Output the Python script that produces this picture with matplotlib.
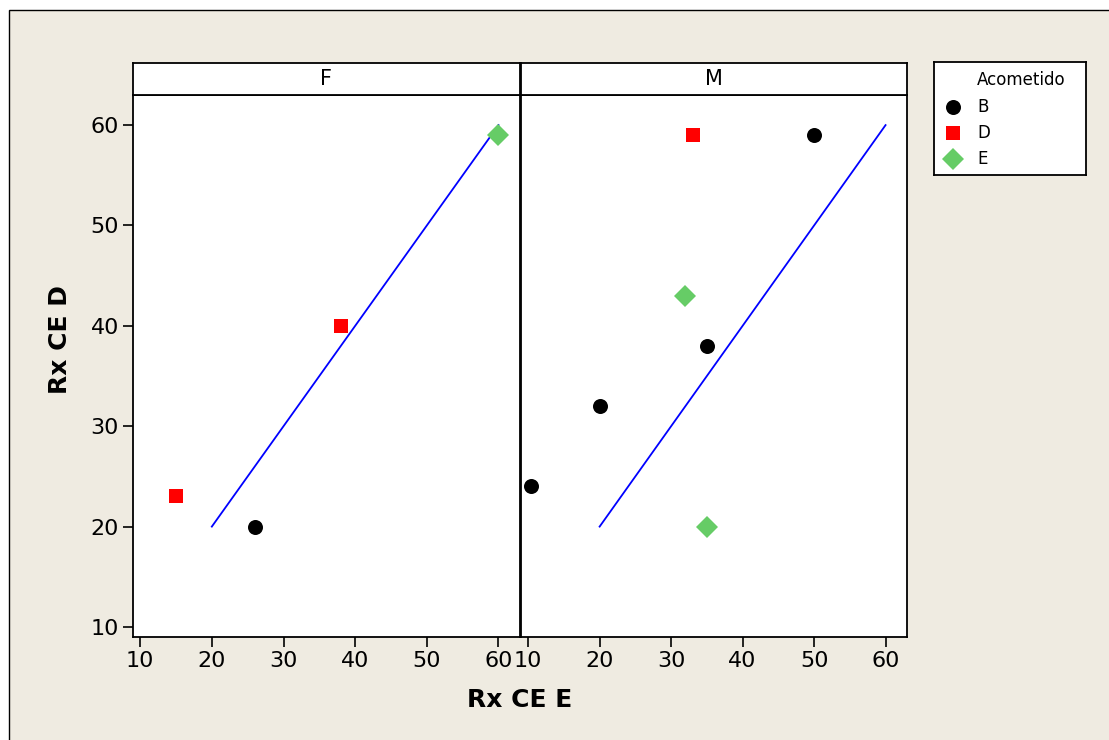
import matplotlib
matplotlib.use("Agg")
import matplotlib.pyplot as plt
from matplotlib.patches import Rectangle
from matplotlib.lines import Line2D

plt.rcParams['font.family'] = ['DejaVu Sans']

# Panel data: (Rx CE E, Rx CE D) by group "Acometido"
panels = ["F", "M"]
groups = ["B", "D", "E"]

f_b_x = [26]
f_b_y = [20]
f_d_x = [15, 38]
f_d_y = [23, 40]
f_e_x = [60]
f_e_y = [59]

m_b_x = [10.4, 20, 35, 50]
m_b_y = [24, 32, 38, 59]
m_d_x = [33]
m_d_y = [59]
m_e_x = [32, 35]
m_e_y = [43, 20]

# Reference line y = x
ref_x = [20, 60]
ref_y = [20, 60]

ticks = [10, 20, 30, 40, 50, 60]

styles = {
    "B": dict(marker="o", color="black", ms=10.8),
    "D": dict(marker="s", color="#FF0000", ms=9.4),
    "E": dict(marker="D", color="#66CC66", ms=10.8),
}

data = {
    "F": {"B": (f_b_x, f_b_y), "D": (f_d_x, f_d_y), "E": (f_e_x, f_e_y)},
    "M": {"B": (m_b_x, m_b_y), "D": (m_d_x, m_d_y), "E": (m_e_x, m_e_y)},
}

W, H = 1109, 740
fig = plt.figure(figsize=(W / 100, H / 100), dpi=100, facecolor="white")

def fx(px):
    return px / W

def fy(py):
    return 1 - py / H

# Beige frame (open to the right and bottom)
fig.patches.append(Rectangle((fx(9), -1.0), 3.0, fy(10) + 1.0, transform=fig.transFigure,
                             facecolor="#EFEBE1", edgecolor="black", lw=1.0, zorder=-10))

ax_bottom = fy(637)
ax_h = fy(95) - fy(637)
lefts = [133, 521]
widths = [387, 386]

axes = []
for i, p in enumerate(panels):
    ax = fig.add_axes([fx(lefts[i]), ax_bottom, widths[i] / W, ax_h])
    ax.set_facecolor("white")
    ax.plot(ref_x, ref_y, color="#0000FF", lw=1.3, zorder=2)
    for g in groups:
        xs, ys = data[p][g]
        st = styles[g]
        ax.plot(xs, ys, linestyle="none", marker=st["marker"], color=st["color"],
                markersize=st["ms"], markeredgewidth=0, zorder=3)
    ax.set_xlim(9, 63)
    ax.set_ylim(9, 63)
    ax.set_xticks(ticks)
    ax.set_yticks(ticks)
    ax.tick_params(direction="out", length=7, width=1.2, labelsize=16, pad=3, colors="black")
    for s in ax.spines.values():
        s.set_linewidth(1.3)
    if i == 1:
        ax.tick_params(axis="y", left=False, labelleft=False)
    axes.append(ax)

    # Strip header
    sax = fig.add_axes([fx(lefts[i]), fy(95), widths[i] / W, fy(63) - fy(95)])
    sax.set_facecolor("white")
    sax.set_xticks([])
    sax.set_yticks([])
    for s in sax.spines.values():
        s.set_linewidth(1.3)
    sax.text(0.5, 0.5, p, ha="center", va="center", fontsize=15, transform=sax.transAxes)

fig.text(fx(60), fy(340), "Rx CE D", rotation=90, ha="center", va="center",
         fontsize=18, fontweight="bold")
fig.text(fx(520), fy(700), "Rx CE E", ha="center", va="center",
         fontsize=18, fontweight="bold")

# Legend box
lax = fig.add_axes([fx(934), fy(175), 152 / W, (175 - 62) / H])
lax.set_facecolor("white")
lax.set_xlim(934, 1086)
lax.set_ylim(175, 62)
lax.set_xticks([])
lax.set_yticks([])
for s in lax.spines.values():
    s.set_linewidth(1.3)
lax.text(977, 80, "Acometido", ha="left", va="center", fontsize=12)
for g, yy in zip(groups, [107, 133, 159]):
    st = styles[g]
    lax.add_line(Line2D([953], [yy], linestyle="none", marker=st["marker"], color=st["color"],
                        markersize=st["ms"], markeredgewidth=0))
    lax.text(977, yy, g, ha="left", va="center", fontsize=12)

fig.savefig("out.png", dpi=100, facecolor=fig.get_facecolor())
